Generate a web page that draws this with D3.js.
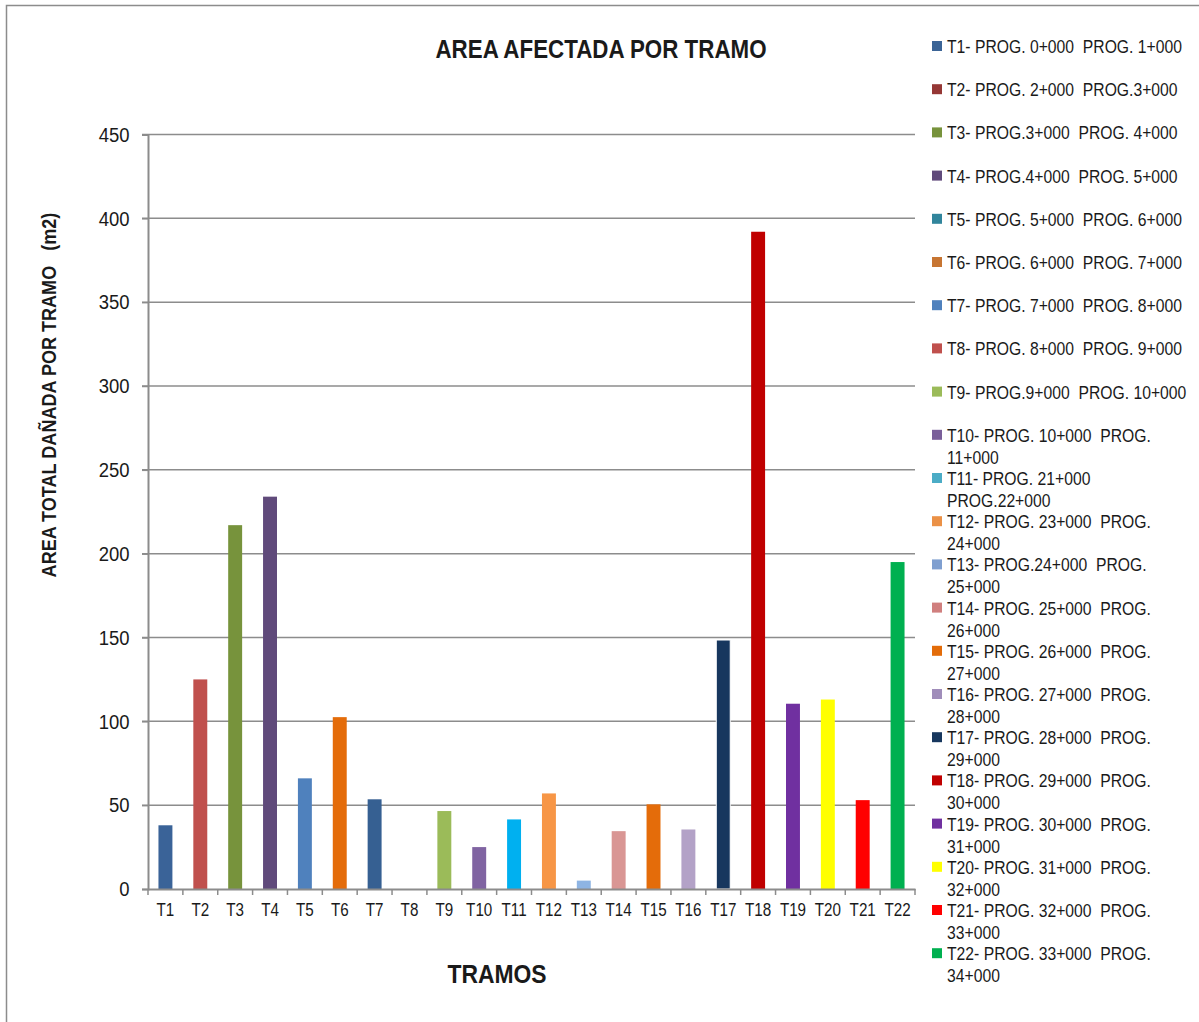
<!DOCTYPE html>
<html>
<head>
<meta charset="UTF-8">
<title>Area afectada por tramo</title>
<script src="https://d3js.org/d3.v7.min.js"></script>
<style>
  body { margin: 0; background: #fff; }
  text { font-family: "Liberation Sans", Arial, sans-serif; fill: #1a1a1a; white-space: pre; }
</style>
</head>
<body>
<div id="chart"></div>
<script>
// data
var tramos = ["T1","T2","T3","T4","T5","T6","T7","T8","T9","T10","T11","T12","T13","T14","T15","T16","T17","T18","T19","T20","T21","T22"];
var areas = [38, 125, 217, 234, 66, 102.5, 53.5, 0, 46.5, 25, 41.5, 57, 5, 34.5, 50.5, 35.5, 148.5, 392, 110.5, 113, 53, 195];
var barColors = ["#3A6398","#C0504D","#77933C","#604A7B","#4F81BD","#E46C0A","#366092","#C0504D","#9BBB59","#8064A2","#00B0F0","#F79646","#8EB4E3","#D99694","#E46C0A","#B3A2C7","#17375E","#C00000","#7030A0","#FFFF00","#FF0000","#00B050"];
var legendColors = ["#3B6496","#953735","#77933C","#604A7B","#31859C","#C77532","#4F81BD","#C0504D","#9BBB59","#7A5F9A","#4BACC6","#EB9146","#7F9FD0","#D07F7E","#E36C09","#A08DBA","#17375E","#C00000","#7030A0","#FFFF00","#FF0000","#00B050"];
var legendLabels = [
  "T1- PROG. 0+000  PROG. 1+000",
  "T2- PROG. 2+000  PROG.3+000",
  "T3- PROG.3+000  PROG. 4+000",
  "T4- PROG.4+000  PROG. 5+000",
  "T5- PROG. 5+000  PROG. 6+000",
  "T6- PROG. 6+000  PROG. 7+000",
  "T7- PROG. 7+000  PROG. 8+000",
  "T8- PROG. 8+000  PROG. 9+000",
  "T9- PROG.9+000  PROG. 10+000",
  "T10- PROG. 10+000  PROG.\n11+000",
  "T11- PROG. 21+000\nPROG.22+000",
  "T12- PROG. 23+000  PROG.\n24+000",
  "T13- PROG.24+000  PROG.\n25+000",
  "T14- PROG. 25+000  PROG.\n26+000",
  "T15- PROG. 26+000  PROG.\n27+000",
  "T16- PROG. 27+000  PROG.\n28+000",
  "T17- PROG. 28+000  PROG.\n29+000",
  "T18- PROG. 29+000  PROG.\n30+000",
  "T19- PROG. 30+000  PROG.\n31+000",
  "T20- PROG. 31+000  PROG.\n32+000",
  "T21- PROG. 32+000  PROG.\n33+000",
  "T22- PROG. 33+000  PROG.\n34+000"
];
var yTicks = [0, 50, 100, 150, 200, 250, 300, 350, 400, 450];

var width = 1199, height = 1022;
var svg = d3.select("#chart").append("svg")
  .attr("width", width)
  .attr("height", height);

var gridColor = "#8c8c8c";

// the original uses a narrow font, so squeeze text horizontally
function narrowText(parent, tx, ty, sx, str, size, bold, anchor) {
  var g = parent.append("g").attr("transform", "translate(" + tx + "," + ty + ") scale(" + sx + ",1)");
  return g.append("text")
    .attr("text-anchor", anchor || "start")
    .style("font-size", size + "px")
    .style("font-weight", bold ? "bold" : "normal")
    .text(str);
}

// outer frame (top and left edges visible)
svg.append("path")
  .attr("d", "M6.5," + height + "V5.5H" + width)
  .attr("fill", "none")
  .attr("stroke", "#8c8c8c")
  .attr("stroke-width", 1.5);

var x = d3.scaleBand()
  .domain(tramos)
  .range([148, 915])
  .paddingInner(0.6)
  .paddingOuter(0.3);

var y = d3.scaleLinear()
  .domain([0, 450])
  .range([889, 134.5]);

// gridlines
svg.append("g")
  .selectAll("line")
  .data(yTicks.filter(function(d){ return d > 0; }))
  .enter().append("line")
  .attr("x1", 142).attr("x2", 915)
  .attr("y1", function(d){ return y(d); })
  .attr("y2", function(d){ return y(d); })
  .attr("stroke", gridColor)
  .attr("stroke-width", 1.5);

// bars
var bars = tramos.map(function(t, i){ return {t: t, v: areas[i], c: barColors[i]}; });
svg.append("g")
  .selectAll("rect")
  .data(bars)
  .enter().append("rect")
  .attr("x", function(d){ return x(d.t); })
  .attr("width", x.bandwidth())
  .attr("y", function(d){ return y(d.v); })
  .attr("height", function(d){ return y(0) - y(d.v); })
  .attr("fill", function(d){ return d.c; })
  .attr("stroke", function(d){ return d.t === "T17" ? "#fff" : "none"; })
  .attr("stroke-width", 1);

// y axis
var yAxis = svg.append("g")
  .attr("transform", "translate(148,0)")
  .call(d3.axisLeft(y).tickValues(yTicks).tickSize(6).tickPadding(15));
yAxis.select(".domain").attr("stroke", gridColor).attr("stroke-width", 2);
yAxis.selectAll(".tick line").attr("stroke", gridColor).attr("stroke-width", 1.5);
yAxis.selectAll(".tick text")
  .style("font-size", "21px").attr("fill", "#1a1a1a")
  .attr("transform", "scale(0.88,1)");

// x axis: labels plus boundary ticks
var xAxis = svg.append("g")
  .attr("transform", "translate(0,889)")
  .call(d3.axisBottom(x).tickSize(0).tickPadding(14));
xAxis.select(".domain").attr("stroke", gridColor).attr("stroke-width", 2);
xAxis.selectAll(".tick text")
  .style("font-size", "19px").attr("fill", "#1a1a1a")
  .attr("transform", "scale(0.8,1)");

svg.append("g")
  .selectAll("line")
  .data(d3.range(tramos.length + 1))
  .enter().append("line")
  .attr("x1", function(i){ return 148 + i * x.step(); })
  .attr("x2", function(i){ return 148 + i * x.step(); })
  .attr("y1", 889).attr("y2", 895)
  .attr("stroke", gridColor)
  .attr("stroke-width", 1.5);

// titles
narrowText(svg, 601, 58, 0.86, "AREA AFECTADA POR TRAMO", 26, true, "middle");
narrowText(svg, 497, 983, 0.88, "TRAMOS", 26, true, "middle");

svg.append("g")
  .attr("transform", "translate(56,395) rotate(-90) scale(0.86,1)")
  .append("text")
  .attr("text-anchor", "middle")
  .style("font-size", "21px").style("font-weight", "bold")
  .text("AREA TOTAL DAÑADA POR TRAMO   (m2)");

// legend
var legend = svg.append("g").selectAll("g")
  .data(legendLabels)
  .enter().append("g")
  .attr("transform", function(d, i){ return "translate(932," + (46 + i * 43.2) + ")"; });

legend.append("rect")
  .attr("x", 0).attr("y", -5)
  .attr("width", 10).attr("height", 10)
  .attr("fill", function(d, i){ return legendColors[i]; });

legend.append("g")
  .attr("transform", "translate(15,7) scale(0.85,1)")
  .append("text")
  .style("font-size", "18.5px")
  .each(function(d){
    var t = d3.select(this);
    d.split("\n").forEach(function(l, k){
      t.append("tspan").attr("x", 0).attr("dy", k === 0 ? 0 : 22).text(l);
    });
  });
</script>
</body>
</html>
